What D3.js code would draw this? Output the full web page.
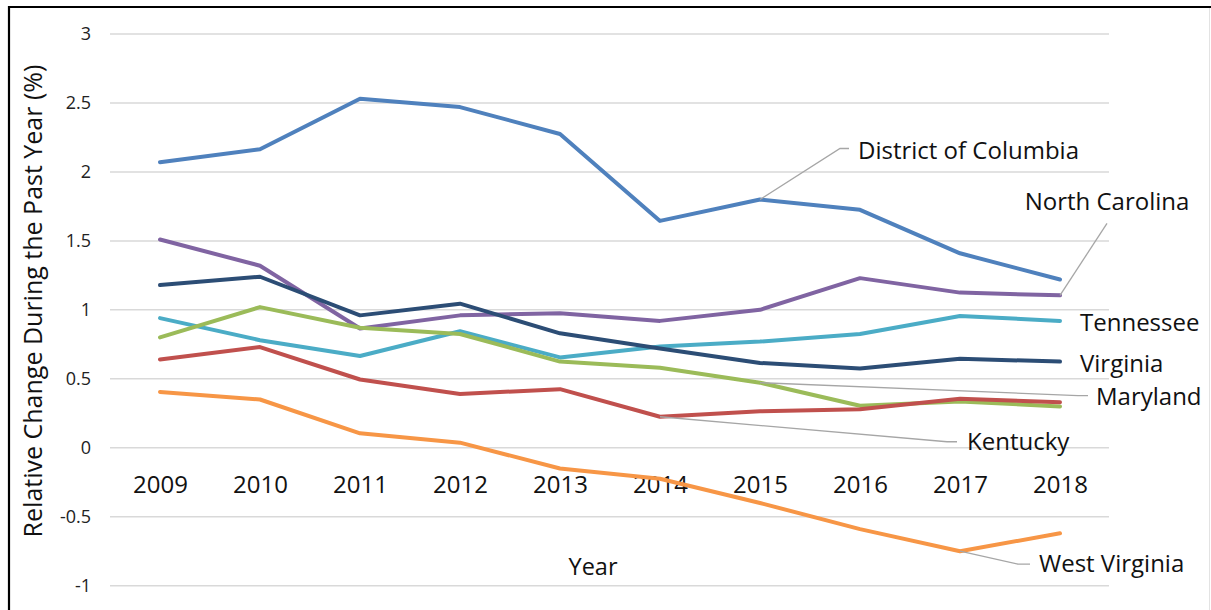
<!DOCTYPE html>
<html>
<head>
<meta charset="utf-8">
<script src="https://cdn.jsdelivr.net/npm/d3@7"></script>
<style>
  html, body { margin: 0; padding: 0; background: #fff; }
  svg { display: block; font-family: "Open Sans", "Noto Sans", sans-serif; }
</style>
</head>
<body>
<svg id="chart" width="1211" height="610"></svg>
<script>
// Years on the category axis
const years = ["2009", "2010", "2011", "2012", "2013", "2014", "2015", "2016", "2017", "2018"];

// Relative change during the past year (%), one array per state
const districtOfColumbia = [2.07, 2.165, 2.53, 2.47, 2.275, 1.645, 1.80, 1.725, 1.41, 1.22];
const northCarolina      = [1.51, 1.32, 0.865, 0.96, 0.975, 0.92, 1.0, 1.23, 1.125, 1.105];
const tennessee          = [0.94, 0.78, 0.665, 0.845, 0.655, 0.735, 0.77, 0.825, 0.955, 0.92];
const virginia           = [1.18, 1.24, 0.96, 1.045, 0.83, 0.72, 0.615, 0.575, 0.645, 0.625];
const maryland           = [0.80, 1.02, 0.87, 0.825, 0.625, 0.58, 0.472, 0.305, 0.335, 0.30];
const kentucky           = [0.64, 0.73, 0.495, 0.39, 0.425, 0.225, 0.265, 0.28, 0.355, 0.33];
const westVirginia       = [0.405, 0.35, 0.105, 0.037, -0.15, -0.225, -0.40, -0.59, -0.75, -0.62];

// Value axis ticks and their printed labels
const yTicks = [3, 2.5, 2, 1.5, 1, 0.5, 0, -0.5, -1];
const yTickLabels = ["3", "2.5", "2", "1.5", "1", "0.5", "0", "-0.5", "-1"];

const series = [
  { name: "District of Columbia", values: districtOfColumbia, color: "#4f81bd" },
  { name: "North Carolina",       values: northCarolina,      color: "#8064a2" },
  { name: "Tennessee",            values: tennessee,          color: "#4bacc6" },
  { name: "Virginia",             values: virginia,           color: "#2c4d75" },
  { name: "Maryland",             values: maryland,           color: "#9bbb59" },
  { name: "Kentucky",             values: kentucky,           color: "#c0504d" },
  { name: "West Virginia",        values: westVirginia,       color: "#f79646" }
];

// Series labels: which point the leader starts from, and offsets in px from that point
const labels = [
  { name: "District of Columbia", at: "2015", leader: [[80, -51], [89, -51]], text: [98, -41], anchor: "start" },
  { name: "North Carolina",       at: "2018", leader: [[47, -72]],            text: [47, -85], anchor: "middle" },
  { name: "Tennessee",            at: "2018", leader: null,                   text: [20, 10],  anchor: "start" },
  { name: "Virginia",             at: "2018", leader: null,                   text: [20, 10],  anchor: "start" },
  { name: "Maryland",             at: "2015", leader: [[318, 13], [328, 13]], text: [336, 22], anchor: "start" },
  { name: "Kentucky",             at: "2014", leader: [[287, 25], [297, 25]], text: [307, 33], anchor: "start" },
  { name: "West Virginia",        at: "2017", leader: [[58, 13], [70, 13]],   text: [79, 21],  anchor: "start" }
];

const svg = d3.select("#chart");

const x = d3.scalePoint().domain(years).range([110, 1110]).padding(0.5);
const y = d3.scaleLinear().domain([-1, 3]).range([585.7, 34]);

// Outer frame
svg.append("line").attr("x1", 9).attr("x2", 9).attr("y1", 6).attr("y2", 610)
  .attr("stroke", "#000").attr("stroke-width", 2.2);
svg.append("line").attr("x1", 8).attr("x2", 1211).attr("y1", 7).attr("y2", 7)
  .attr("stroke", "#000").attr("stroke-width", 2.2);
svg.append("line").attr("x1", 1209.5).attr("x2", 1209.5).attr("y1", 8).attr("y2", 610)
  .attr("stroke", "#e3e3e3").attr("stroke-width", 1);

// Horizontal gridlines
svg.append("g").selectAll("line").data(yTicks).join("line")
  .attr("x1", 110).attr("x2", 1109)
  .attr("y1", d => y(d)).attr("y2", d => y(d))
  .attr("stroke", "#d9d9d9").attr("stroke-width", 1.5);

// Value axis labels
const yAxis = d3.axisLeft(y).tickValues(yTicks)
  .tickFormat((d, i) => yTickLabels[i]).tickSize(0).tickPadding(19);
svg.append("g").attr("transform", "translate(110,0)").call(yAxis)
  .call(g => g.select(".domain").remove())
  .selectAll("text").attr("font-size", 18).attr("fill", "#222")
  .attr("font-family", "'Open Sans', sans-serif");

// Category axis labels, hung from the zero line
const xAxis = d3.axisBottom(x).tickSize(0).tickPadding(28);
svg.append("g").attr("transform", `translate(0,${y(0)})`).call(xAxis)
  .call(g => g.select(".domain").remove())
  .selectAll("text").attr("font-size", 24).attr("fill", "#111")
  .attr("font-family", "'Open Sans', sans-serif");

// Axis titles
svg.append("text")
  .attr("transform", "translate(42,301) rotate(-90)")
  .attr("text-anchor", "middle").attr("font-size", 25).attr("fill", "#111")
  .text("Relative Change During the Past Year (%)");
svg.append("text")
  .attr("x", 593).attr("y", 575)
  .attr("text-anchor", "middle").attr("font-size", 23.5).attr("fill", "#111")
  .text("Year");

// Lines
const line = d3.line().x((d, i) => x(years[i])).y(d => y(d));
svg.append("g").selectAll("path").data(series).join("path")
  .attr("d", d => line(d.values))
  .attr("fill", "none")
  .attr("stroke", d => d.color)
  .attr("stroke-width", 4)
  .attr("stroke-linejoin", "round")
  .attr("stroke-linecap", "round");

// Series labels with leader lines
const lab = svg.append("g");
labels.forEach(l => {
  const s = series.find(d => d.name === l.name);
  const i = years.indexOf(l.at);
  const px = x(l.at), py = y(s.values[i]);
  if (l.leader) {
    const pts = [[px, py]].concat(l.leader.map(([dx, dy]) => [px + dx, py + dy]));
    lab.append("path")
      .attr("d", d3.line()(pts))
      .attr("fill", "none").attr("stroke", "#a6a6a6").attr("stroke-width", 1.3);
  }
  lab.append("text")
    .attr("x", px + l.text[0]).attr("y", py + l.text[1])
    .attr("text-anchor", l.anchor)
    .attr("font-size", 24).attr("fill", "#111")
    .text(l.name);
});
</script>
</body>
</html>
